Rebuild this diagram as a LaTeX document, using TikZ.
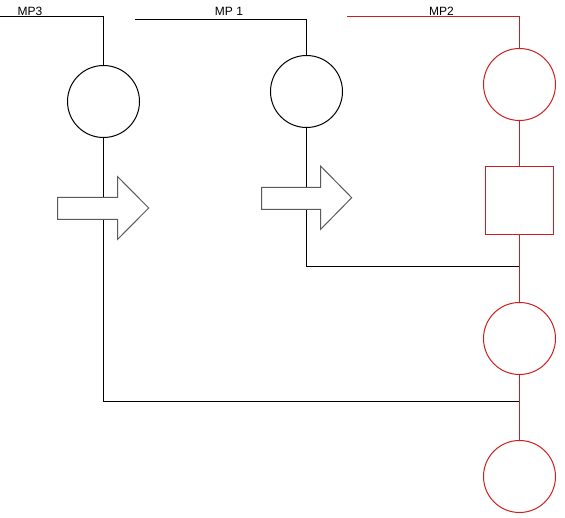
\documentclass[tikz,border=0pt]{standalone}
\usepackage{fontspec}
\setmainfont{Liberation Sans}
\definecolor{mpred}{RGB}{204,30,30}
\definecolor{arrgray}{RGB}{90,90,90}
\begin{document}
\begin{tikzpicture}[x=1pt,y=-1pt,line width=1pt,
  circ/.style={circle,draw,minimum size=72pt,inner sep=0pt},
  sq/.style={rectangle,draw,minimum size=68pt,inner sep=0pt},
  lbl/.style={anchor=base,font=\fontsize{12}{14}\selectfont,inner sep=0pt,text=black},
  redline/.style={color=mpred},
  bigarrow/.style={draw=arrgray,fill=white,line join=miter}]
\useasboundingbox (0,0) rectangle (565,518);
% nodes
\node[circ] (c3) at (103.5,101.5) {};
\node[circ] (c1) at (306.5,91.5) {};
\node[circ,color=mpred] (c2) at (519.5,84.5) {};
\node[sq,color=mpred] (s) at (519.5,200.5) {};
\node[circ,color=mpred] (c4) at (519.5,338.5) {};
\node[circ,color=mpred] (c5) at (519.5,476.5) {};
\coordinate (j1) at (519.5,266.5);
\coordinate (j2) at (519.5,401.5);
\coordinate (a3) at (0,16.5);
\coordinate (a1) at (135,19.5);
\coordinate (a2) at (347,16.5);
% labels
\node[lbl] (t3) at (30,16) {MP3};
\node[lbl] (t1) at (229,16) {MP 1};
\node[lbl] (t2) at (441.5,16) {MP2};
% black lines
\draw (a3) -| (c3.north);
\draw (a1) -| (c1.north);
\draw (c1.south) |- (j1);
\draw (c3.south) |- (j2);
% red lines
\draw[redline] (a2) -| (c2.north);
\draw[redline] (c2.south) -- (s.north);
\draw[redline] (s.south) -- (c4.north);
\draw[redline] (c4.south) -- (c5.north);
% block arrows
\draw[bigarrow] (57.5,197.5) -- (117.5,197.5) -- (117.5,176.5) -- (148.7,208) -- (117.5,239.5) -- (117.5,219.5) -- (57.5,219.5) -- cycle;
\draw[bigarrow] (261.5,187.5) -- (320.5,187.5) -- (320.5,166) -- (351.7,197.7) -- (320.5,229.5) -- (320.5,209.5) -- (261.5,209.5) -- cycle;
\end{tikzpicture}
\end{document}
